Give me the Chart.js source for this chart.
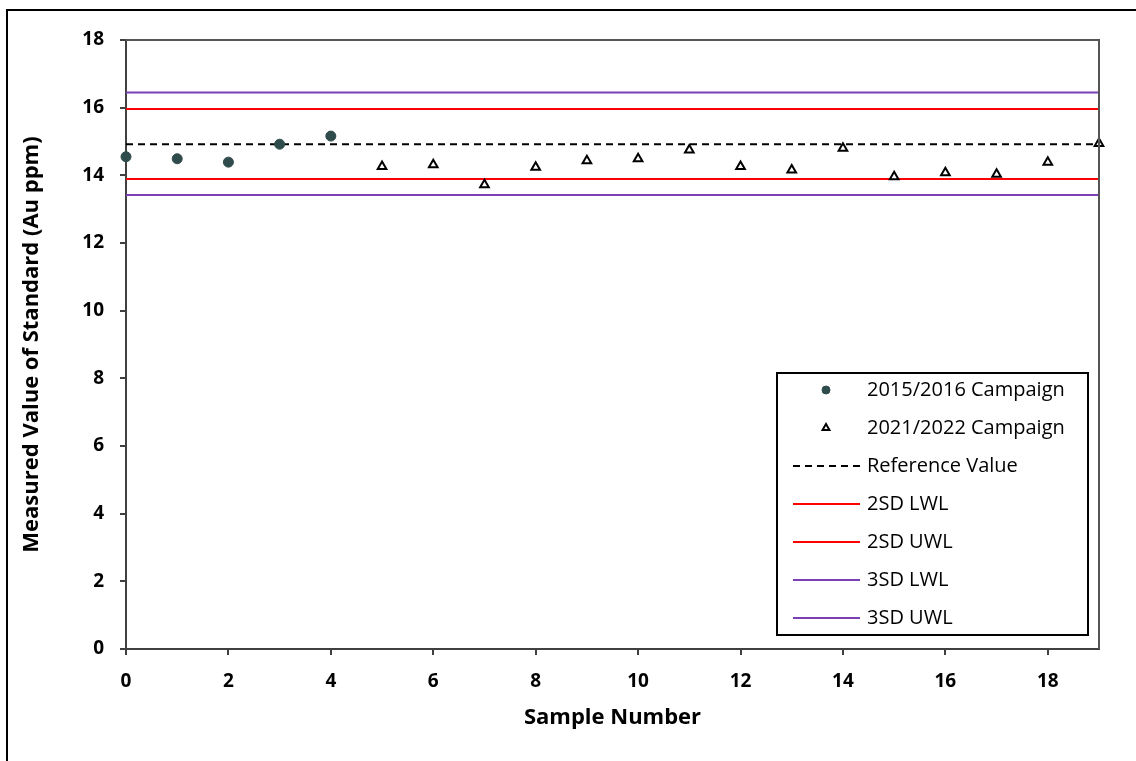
<!DOCTYPE html>
<html>
<head>
<meta charset="utf-8">
<title>Standard control chart</title>
<script src="https://cdn.jsdelivr.net/npm/chart.js@4.4.0/dist/chart.umd.min.js"></script>
<style>
  body { margin: 0; background: #fff; }
  #frame { position: absolute; left: 6px; top: 9px; width: 1140px; height: 760px;
           border-top: 2px solid #000; border-left: 2px solid #000; }
  #chart { position: absolute; left: 0; top: 0; }
</style>
</head>
<body>
<div id="frame"></div>
<canvas id="chart" width="1136" height="761"></canvas>
<script>
// measured values of the gold standard, per campaign
const samples2015 = [0, 1, 2, 3, 4];
const values2015 = [14.55, 14.49, 14.39, 14.92, 15.16];
const samples2021 = [5, 6, 7, 8, 9, 10, 11, 12, 13, 14, 15, 16, 17, 18, 19];
const values2021 = [14.26, 14.31, 13.72, 14.24, 14.43, 14.49, 14.75, 14.26, 14.16, 14.80, 13.96, 14.08, 14.03, 14.39, 14.94];

// control limits
const referenceValue = 14.92;
const lwl2sd = 13.89;
const uwl2sd = 15.96;
const lwl3sd = 13.42;
const uwl3sd = 16.45;

const seriesNames = ["2015/2016 Campaign", "2021/2022 Campaign", "Reference Value",
                     "2SD LWL", "2SD UWL", "3SD LWL", "3SD UWL"];

const xMin = 0, xMax = 19;
const xTicks = [0, 2, 4, 6, 8, 10, 12, 14, 16, 18];
const yTicks = [0, 2, 4, 6, 8, 10, 12, 14, 16, 18];

const FONT = "'Open Sans', Lato, sans-serif";
const RED = "#ff0000";
const PURPLE = "#7b3fb8";

function toPoints(xs, ys) {
    return xs.map((x, i) => ({ x: x, y: ys[i] }));
}

function limitLine(label, value, color, dash) {
    return {
        label: label,
        data: [{ x: xMin, y: value }, { x: xMax, y: value }],
        showLine: true,
        borderColor: color,
        borderWidth: 2,
        borderDash: dash || [],
        pointRadius: 0,
        order: 5
    };
}

const datasets = [
    {
        label: seriesNames[0],
        data: toPoints(samples2015, values2015),
        pointStyle: "circle",
        pointRadius: 5,
        backgroundColor: "#2f4b4b",
        borderColor: "#2f4b4b",
        borderWidth: 1,
        clip: false,
        order: 1
    },
    {
        label: seriesNames[1],
        data: toPoints(samples2021, values2021),
        pointStyle: "triangle",
        pointRadius: 5,
        backgroundColor: "#ffffff",
        borderColor: "#000000",
        borderWidth: 2,
        clip: false,
        order: 1
    },
    limitLine(seriesNames[2], referenceValue, "#000000", [7, 5]),
    limitLine(seriesNames[3], lwl2sd, RED),
    limitLine(seriesNames[4], uwl2sd, RED),
    limitLine(seriesNames[5], lwl3sd, PURPLE),
    limitLine(seriesNames[6], uwl3sd, PURPLE)
];

// top and right edges of the plot area
const plotFrame = {
    id: "plotFrame",
    afterDatasetsDraw(chart) {
        const { ctx, chartArea: a } = chart;
        ctx.save();
        ctx.strokeStyle = "#555555";
        ctx.lineWidth = 2;
        ctx.beginPath();
        ctx.moveTo(a.left, a.top);
        ctx.lineTo(a.right, a.top);
        ctx.lineTo(a.right, a.bottom);
        ctx.stroke();
        ctx.restore();
    }
};

// boxed legend sitting inside the plot, lower right
const boxLegend = {
    id: "boxLegend",
    afterDraw(chart) {
        const { ctx, chartArea: a } = chart;
        const w = 311, h = 262;
        const left = a.right - 11 - w;
        const top = a.bottom - 14 - h;
        ctx.save();
        ctx.fillStyle = "#ffffff";
        ctx.fillRect(left, top, w, h);
        ctx.strokeStyle = "#000000";
        ctx.lineWidth = 2;
        ctx.strokeRect(left, top, w, h);

        ctx.font = "20px " + FONT;
        ctx.textBaseline = "middle";
        chart.data.datasets.forEach((ds, i) => {
            const y = top + 17 + i * 38;
            const sx = left + 16, ex = left + 83, mx = left + 49;
            if (ds.showLine) {
                ctx.strokeStyle = ds.borderColor;
                ctx.lineWidth = ds.borderWidth;
                ctx.setLineDash(ds.borderDash);
                ctx.beginPath();
                ctx.moveTo(sx, y);
                ctx.lineTo(ex, y);
                ctx.stroke();
                ctx.setLineDash([]);
            } else {
                ctx.fillStyle = ds.backgroundColor;
                ctx.strokeStyle = ds.borderColor;
                ctx.lineWidth = ds.borderWidth;
                Chart.helpers.drawPoint(ctx, { pointStyle: ds.pointStyle, radius: 4, rotation: 0, borderWidth: ds.borderWidth }, mx, y);
            }
            ctx.fillStyle = "#000000";
            ctx.fillText(ds.label, left + 90, y);
        });
        ctx.restore();
    }
};

const axisCommon = {
    border: { display: true, color: "#404040", width: 2 },
    grid: { drawOnChartArea: false, drawTicks: true, tickLength: 6, color: "#404040", lineWidth: 2 },
    ticks: { color: "#000000", font: { family: FONT, size: 19, weight: "bold" } }
};

new Chart(document.getElementById("chart").getContext("2d"), {
    type: "scatter",
    data: { datasets: datasets },
    options: {
        responsive: false,
        animation: false,
        layout: { padding: { left: 8, top: 40, right: 37, bottom: 0 } },
        plugins: { legend: { display: false }, tooltip: { enabled: false } },
        scales: {
            x: {
                type: "linear",
                min: xMin,
                max: xMax,
                border: axisCommon.border,
                grid: axisCommon.grid,
                ticks: Object.assign({}, axisCommon.ticks, { padding: 15 }),
                afterBuildTicks: s => { s.ticks = xTicks.map(v => ({ value: v })); },
                afterFit: s => { s.height = 112; },
                title: {
                    display: true,
                    text: "Sample Number",
                    color: "#000000",
                    font: { family: FONT, size: 22, weight: "bold" },
                    padding: { top: 0, bottom: 30 }
                }
            },
            y: {
                type: "linear",
                min: 0,
                max: 18,
                border: axisCommon.border,
                grid: axisCommon.grid,
                ticks: Object.assign({}, axisCommon.ticks, { padding: 16 }),
                afterBuildTicks: s => { s.ticks = yTicks.map(v => ({ value: v })); },
                afterFit: s => { s.width = 118; },
                title: {
                    display: true,
                    text: "Measured Value of Standard (Au ppm)",
                    color: "#000000",
                    font: { family: FONT, size: 22, weight: "bold" },
                    padding: { top: 11, bottom: 0 }
                }
            }
        }
    },
    plugins: [plotFrame, boxLegend]
});
</script>
</body>
</html>
